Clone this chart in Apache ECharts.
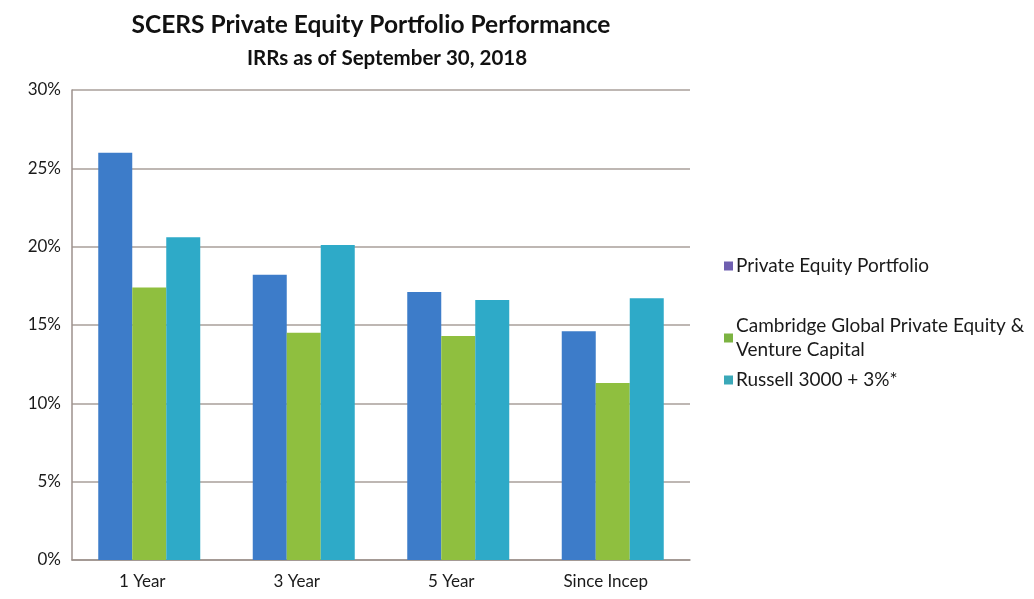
<!DOCTYPE html>
<html>
<head>
<meta charset="utf-8">
<script src="https://cdn.jsdelivr.net/npm/echarts@6/dist/echarts.min.js"></script>
<style>
  html, body { margin: 0; padding: 0; background: #fff; }
  #main { width: 1034px; height: 599px; }
</style>
</head>
<body>
<div id="main"></div>
<script>
var categories = ['1 Year', '3 Year', '5 Year', 'Since Incep'];
var seriesNames = ['Private Equity Portfolio', 'Cambridge Global Private Equity &\nVenture Capital', 'Russell 3000 + 3%*'];
var portfolio = [26.0, 18.2, 17.1, 14.6];
var cambridge = [17.4, 14.5, 14.3, 11.3];
var russell = [20.6, 20.1, 16.6, 16.7];

var barColors = ['#3d7cc9', '#8fbf3f', '#2eaac8'];
var legendColors = ['#6f5fb0', '#7cb342', '#3aa8b8'];
var legendTops = [251, 311, 365];
var font = 'Lato, "Open Sans", sans-serif';

var chart = echarts.init(document.getElementById('main'));

// one legend per item so each can sit where the original has it
var legends = seriesNames.map(function (name, i) {
  return {
    left: 719,
    top: legendTops[i],
    icon: 'rect',
    itemWidth: 9,
    itemHeight: 9,
    itemGap: 0,
    selectedMode: false,
    data: [{ name: name, itemStyle: { color: legendColors[i] } }],
    textStyle: { fontFamily: font, fontSize: 19, color: '#1a1a1a', lineHeight: 24, verticalAlign: 'top', padding: [-4, 0, 0, -2] }
  };
});

var option = {
  backgroundColor: '#fff',
  title: [{
    text: 'SCERS Private Equity Portfolio Performance',
    left: 366,
    top: 8,
    textAlign: 'center',
    textStyle: { fontFamily: font, fontSize: 24.5, fontWeight: 'bold', color: '#111' }
  }, {
    text: 'IRRs as of September 30, 2018',
    left: 382,
    top: 43,
    textAlign: 'center',
    textStyle: { fontFamily: font, fontSize: 20.5, fontWeight: 'bold', color: '#111' }
  }],
  legend: legends,
  grid: { left: 72, right: 344, top: 90, bottom: 39 },
  xAxis: {
    type: 'category',
    data: categories,
    axisTick: { show: false },
    axisLine: { lineStyle: { color: '#9c918c', width: 1.5 } },
    axisLabel: { fontFamily: font, fontSize: 17, color: '#1a1a1a', margin: 13, padding: [0, 14, 0, 0] }
  },
  yAxis: {
    type: 'value',
    min: 0,
    max: 30,
    interval: 5,
    axisLine: { show: true, lineStyle: { color: '#9c918c', width: 1.5 } },
    axisTick: { show: false },
    splitLine: { lineStyle: { color: '#a99f9a', width: 1.5 } },
    axisLabel: { formatter: '{value}%', fontFamily: font, fontSize: 17, color: '#1a1a1a', margin: 11 }
  },
  series: [
    { name: seriesNames[0], type: 'bar', data: portfolio, barWidth: 34, barGap: '0%', itemStyle: { color: barColors[0] } },
    { name: seriesNames[1], type: 'bar', data: cambridge, barWidth: 34, barGap: '0%', itemStyle: { color: barColors[1] } },
    { name: seriesNames[2], type: 'bar', data: russell, barWidth: 34, barGap: '0%', itemStyle: { color: barColors[2] } }
  ]
};

chart.setOption(option);
</script>
</body>
</html>
